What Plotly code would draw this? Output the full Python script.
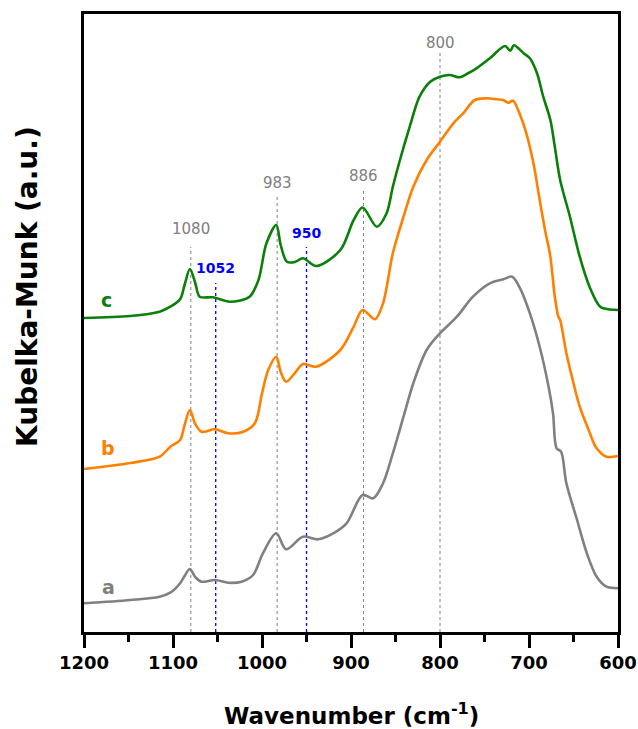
import plotly.graph_objects as go

# Diffuse-reflectance spectra (Kubelka-Munk, stacked with vertical offsets)
wn_a = [1200, 1148, 1115, 1103, 1092, 1087, 1081, 1075, 1068, 1053, 1038, 1023, 1010,
        999, 984, 973, 954, 937, 920, 905, 887, 875, 864, 853, 841, 830, 815, 800,
        781, 763, 744, 729, 719, 710, 699, 688, 678, 673, 669, 664, 658, 646, 635,
        624, 613, 600]
km_a = [28.7, 32, 35.3, 39.3, 48.7, 56, 63, 55, 50.3, 52, 49.3, 50.3, 57,
        78.7, 98.7, 82.7, 95.3, 92.7, 98.7, 108.7, 137, 133.7, 148.7, 178.7, 215.3, 248.7, 282, 298.7,
        315.3, 335.3, 348.7, 352.7, 355.3, 343.7, 318.7, 285.3, 245.3, 218.7, 183.7, 180.3, 148.7, 112, 78.7,
        55.3, 45.3, 43.7]

wn_b = [1200, 1148, 1115, 1103, 1092, 1087, 1081, 1075, 1068, 1053, 1038, 1021, 1008,
        1000, 993, 984, 979, 973, 963, 954, 939, 912, 897, 887, 873, 864, 853, 841,
        830, 815, 800, 785, 774, 761, 748, 736, 729, 723, 718, 710, 703, 695, 688,
        682, 676, 671, 667, 665, 658, 650, 643, 633, 624, 613, 600]
km_b = [163, 169, 175.3, 185.3, 192, 207, 222, 208, 200.3, 202.7, 198.7, 200.3, 208.7,
        238.7, 262, 275.3, 260, 250.3, 259, 268, 265.3, 282, 305.3, 322, 312.7, 328.7, 378.7, 415.3,
        445.3, 472, 490.3, 508.7, 518.7, 532, 533.7, 532.7, 532, 529.3, 531.3, 517, 498.7, 468.7, 432,
        402, 375.3, 335.3, 315.3, 312, 278.7, 248.7, 225.3, 202, 183.7, 175.3, 176]

wn_c = [1200, 1148, 1115, 1103, 1092, 1087, 1081, 1075, 1070, 1055, 1036, 1014, 1004,
        995, 984, 979, 972, 963, 954, 939, 912, 897, 887, 871, 860, 853, 845, 834,
        823, 811, 800, 789, 778, 770, 759, 744, 727, 721, 717, 706, 699, 691, 684,
        676, 671, 665, 654, 643, 632, 620, 609, 600]
km_c = [314, 316, 320.3, 325.3, 332.7, 347, 363, 349, 335.3, 334.7, 330.3, 335.3, 352,
        388.7, 407, 387, 370.3, 370, 373.7, 366, 382, 412, 424.5, 405.3, 418.7, 445.3, 472, 505.3,
        535.3, 550.3, 555.3, 557, 554.7, 558, 563.7, 573.7, 586, 581.3, 586.7, 578.7, 573.7, 558.7, 535.3,
        512, 485.3, 452, 415.3, 375.3, 345.3, 325.3, 322.5, 322]

# Band markers: position, label height, marker-line top, colour
band_wn = [1080, 1052, 983, 950, 886, 800]
band_text = ["1080", "1052", "983", "950", "886", "800"]
band_label_y = [403, 364, 449, 399, 456, 589]
band_line_top = [385, 349, 436, 385, 442, 579]
band_color = ["#808080", "#0000ff", "#808080", "#0000ff", "#808080", "#808080"]
band_bold = [False, True, False, True, False, False]

# Curve letters
letters = ["a", "b", "c"]
letter_wn = [1172, 1173, 1175]
letter_y = [45, 184, 332]

GRAY = "#808080"
ORANGE = "#ff7f00"
GREEN = "#0a800a"
line_colors = [GRAY, ORANGE, GREEN]

fig = go.Figure()
for wn, km, col in [(wn_a, km_a, GRAY), (wn_b, km_b, ORANGE), (wn_c, km_c, GREEN)]:
    fig.add_trace(go.Scatter(x=wn, y=km, mode="lines",
                             line=dict(color=col, width=2.6, shape="spline", smoothing=0.9),
                             showlegend=False, hoverinfo="skip"))

for wn, txt, ly, top, col, bold in zip(band_wn, band_text, band_label_y, band_line_top,
                                        band_color, band_bold):
    fig.add_shape(type="line", x0=wn, x1=wn, y0=0, y1=top, xref="x", yref="y",
                  line=dict(color=col, width=1.3 if bold else 1, dash="dot"), layer="below")
    fig.add_annotation(x=wn, y=ly, text=f"<b>{txt}</b>" if bold else txt, showarrow=False,
                       font=dict(family="DejaVu Sans", size=14 if bold else 15, color=col),
                       xanchor="center", yanchor="middle")

for t, wn, y, col in zip(letters, letter_wn, letter_y, line_colors):
    fig.add_annotation(x=wn, y=y, text=f"<b>{t}</b>", showarrow=False,
                       font=dict(family="DejaVu Sans", size=19, color=col),
                       xanchor="center", yanchor="middle")

# Axis titles
fig.add_annotation(x=0.5, y=-(714 - 632) / 618, xref="paper", yref="paper",
                   text="<b>Wavenumber (cm<sup>-1</sup>)</b>", showarrow=False,
                   font=dict(family="DejaVu Sans", size=23, color="black"),
                   xanchor="center", yanchor="middle")
fig.add_annotation(x=(27 - 84) / 534, y=(632 - 287) / 618, xref="paper", yref="paper",
                   text="<b>Kubelka-Munk (a.u.)</b>", showarrow=False, textangle=-90,
                   font=dict(family="DejaVu Sans", size=28, color="black"),
                   xanchor="center", yanchor="middle")

fig.update_layout(
    width=638, height=729,
    margin=dict(l=84, r=20, t=14, b=97, autoexpand=False),
    paper_bgcolor="white", plot_bgcolor="white",
    xaxis=dict(range=[1200, 600], showgrid=False, zeroline=False, automargin=False,
               showline=True, linecolor="black", linewidth=2.6, mirror=True,
               ticks="outside", ticklen=13, tickwidth=2.6, tickcolor="black",
               tickvals=[1200, 1100, 1000, 900, 800, 700, 600],
               tickfont=dict(family="DejaVu Sans", size=18, color="black", weight="bold"),
               minor=dict(dtick=50, ticks="outside", ticklen=7, tickwidth=2.6, tickcolor="black"),
               fixedrange=True),
    yaxis=dict(range=[0, 618], showgrid=False, zeroline=False, showticklabels=False,
               automargin=False,
               showline=True, linecolor="black", linewidth=2.6, mirror=True, ticks="",
               fixedrange=True),
)

fig.write_html("out.html")
